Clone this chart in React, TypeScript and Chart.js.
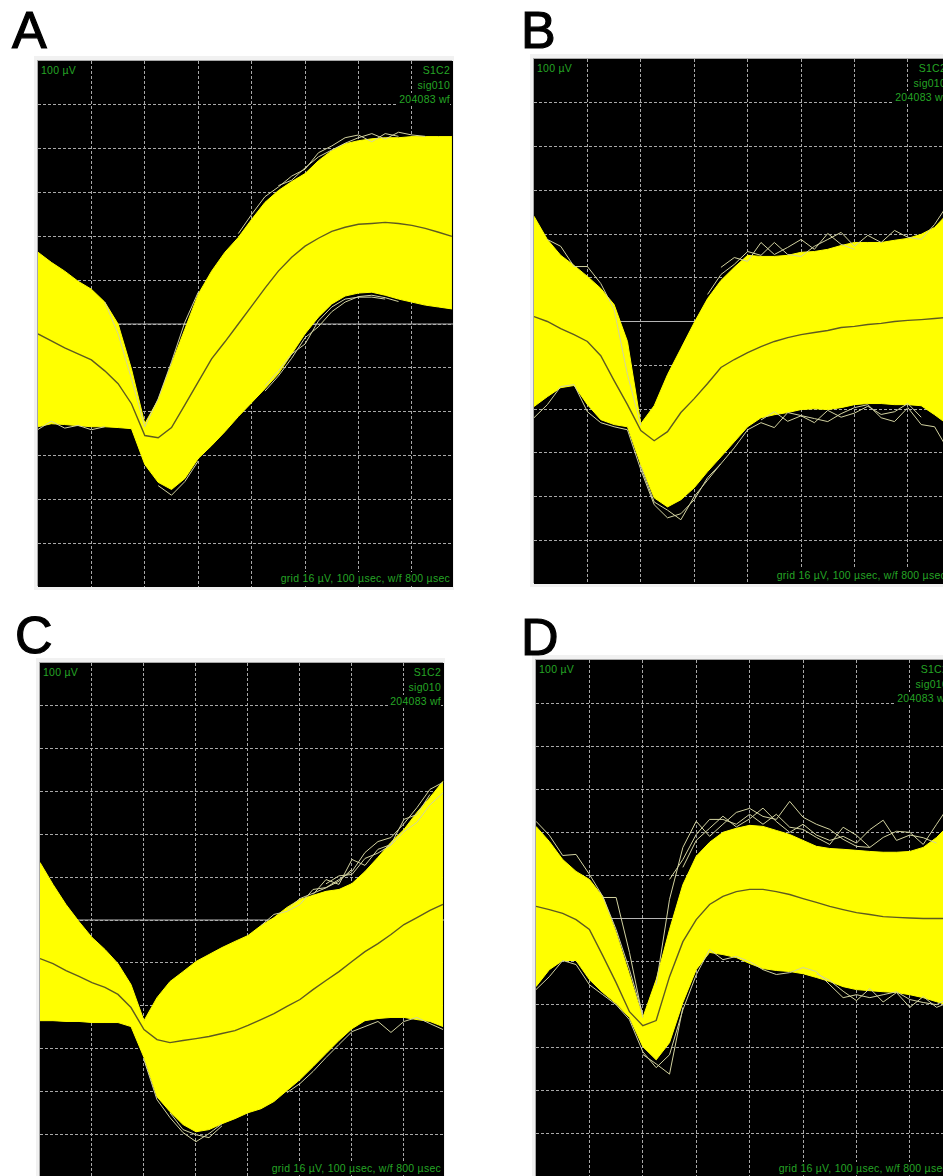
import React, { useEffect, useRef } from "react";
import { Chart, registerables } from "chart.js";

Chart.register(...registerables);

// Sample times: 32 samples, 25 µs apart (µs)
const sampleTimes = [0,25,50,75,100,125,150,175,200,225,250,275,300,325,350,375,400,425,450,475,500,525,550,575,600,625,650,675,700,725,750,775];
const sweepEnd = 777;
const gridUv = 16;
const rangeUv = 96;

// Panel A (µV)
const aUpper = [26.2,22.5,19.3,15.6,12.7,8,0,-16.4,-36.4,-27.6,-14.5,-1.8,10.9,19.3,26.2,31.6,38.2,44.4,48.7,52,54.9,59.6,63.3,65.8,66.9,67.6,68,68,68.4,68.4,68.4,68.4];
const aLower = [-37.5,-36.4,-36.7,-37.1,-37.5,-37.5,-37.8,-38.2,-51.3,-57.8,-60.4,-56.4,-49.1,-44.4,-39.3,-33.8,-28.7,-23.6,-18.2,-10.9,-3.6,2.5,7.3,10.2,11.3,11.6,10.5,9.1,8,6.9,6.2,5.5];
const aMean = [-3.6,-6.2,-8.7,-10.9,-13.1,-17.1,-21.8,-29.1,-40.7,-41.5,-37.8,-29.5,-21.1,-12.7,-6.5,0,6.5,13.1,19.3,24.4,28.4,31.3,33.8,35.3,36.4,36.7,37.1,36.7,36,34.9,33.5,32];
const aTraces: [number, number[]][] = [
  [15,[33,40,46.5,50,54,56.5,62.5,65,68,69,66.5,69.5,68.5]],
  [18,[50.5,52.5,57,61,63.5,66,68,69.5,67.5,70,69,68.5]],
  [0,[-38.5,-35.5,-38,-37,-38.6,-37.5]],
  [9,[-59,-62.5,-57.5,-50]],
  [17,[-22.5,-17.1,-10.9,-7.3,1.1,6.2,9.1,9.8,9.8,9.1]],
  [17,[-24.5,-19,-12.5,-5,-1,4.5,8,10,10.5,9.6,8.2]],
  [5,[8,-3.6,-20,-37.5,-27.3,-13.8,0.7,11.6]],
];

// Panel B (µV)
const bUpper = [38.5,30,24.2,20.5,16.5,12.1,6.2,-7.3,-37.4,-30.8,-19.4,-9.9,-0.4,8.4,15,19.8,24.2,23.8,23.8,24.2,25.3,25.6,26.4,27.8,28.9,28.9,28.9,29.7,30.4,31.9,34.4,39.6];
const bLower = [-31.1,-27.5,-24.2,-23.4,-30.4,-35.9,-37.7,-38.5,-52.4,-64.5,-67.8,-65.2,-60.8,-54.9,-49.5,-44,-38.5,-35.2,-34.1,-33.3,-32.2,-31.9,-32.2,-31.5,-30.4,-30,-30,-30.4,-30.4,-30.8,-34.1,-37.7];
const bMean = [1.8,0,-2.6,-4.8,-7.3,-12.5,-21.6,-30.4,-39.9,-43.6,-40.3,-33.3,-28.2,-22.7,-16.8,-13.9,-11.4,-9.2,-7.3,-5.9,-4.8,-4,-3.3,-2.2,-1.8,-1.1,-0.7,0,0.4,0.7,1.1,1.5];
const bTraces: [number, number[]][] = [
  [1,[30,27.5,20.1,20.1,13.9,4.4,-19.4,-38]],
  [13,[9.9,17.2,20.9,25.6,24.2,28.9,24.5,23.8,27.5,30,32.6,27.5,31.5,28.9,33.3,30.8,30,35.5,42.9]],
  [14,[19.8,23.4,22,28.9,24.5,27.1,30,26.4,32.2,28.2,26.4]],
  [0,[-35.2,-30.4,-23.8,-23.1,-33,-37,-38.5,-39.6,-54.2,-67,-71.8,-70.3,-65.2,-57.1,-52,-46.2,-39.6,-37,-38.8,-33.3,-34.4,-35.5,-36.6,-33.7,-31.5,-30.4,-35.2,-36.6,-31.5,-37.7,-38.5,-46.9]],
  [8,[-53,-66,-69,-72.5,-64,-58,-52]],
  [17,[-36,-33,-36.5,-34.5,-37,-32.5,-35,-33.5,-31,-34,-33,-30,-35]],
];

// Panel C (µV)
const cUpper = [21.5,13.3,5.8,-0.6,-6.5,-11,-16.3,-24.1,-37.6,-29,-23,-19.3,-15.5,-12.9,-10.3,-8,-5.8,-2.1,0.9,4.7,7.7,9.2,10.7,11.4,13.6,18.1,23.4,29,33.8,40.2,45.8,51.8];
const cLower = [-37.6,-37.6,-37.9,-37.9,-38.3,-38.3,-38.3,-39.8,-51.4,-66,-71.6,-76.4,-79.1,-78.3,-76.1,-74.2,-72,-70.5,-67.8,-63.7,-59.6,-54.8,-49.9,-45,-40.6,-37.6,-36.8,-36.4,-36.4,-37.2,-37.9,-39.8];
const cMean = [-14.4,-16.3,-18.9,-21.1,-23.4,-25.2,-27.8,-32.7,-40.9,-44.7,-45.8,-45,-44.3,-43.5,-42.4,-41.3,-39.4,-37.2,-35,-32.3,-29.7,-26,-22.6,-19.3,-15.5,-11.8,-8.8,-5.4,-1.7,0.9,3.6,5.8];
const cTraces: [number, number[]][] = [
  [17,[-2.1,2.1,3.2,5.8,11.4,12.1,15.1,18.1,25.2,29.3,30.8,36,42,48.8,51.4]],
  [21,[9.5,15.1,13.3,22.6,20.4,26.4,28.2,37.6,39.4,46.9]],
  [22,[13.5,16.5,17,23,25,28,33,36.5,43,47.5]],
  [19,[4,8,10,12,14.5,19]],
  [8,[-52.2,-67.1,-73.8,-79.4,-82.8,-79.8,-76.1]],
  [10,[-72,-78.3,-80.2,-81.3,-76.9]],
  [19,[-64.5,-61.1,-56.6,-51.4,-46.5,-41.7,-39.8,-37.9,-42,-37.9,-36.4,-38.7,-40.9]],
];

// Panel D (µV)
const dUpper = [34.2,28.6,21.9,17.5,14.5,8.2,-5.2,-20.8,-36.8,-22.7,-4.1,12.6,23.1,28.3,32,33.5,34.6,34.2,32.7,31.2,29,26.8,26,25.7,25.3,24.9,24.6,24.6,24.9,26.4,30.1,35];
const dLower = [-25.3,-19,-15.6,-15.6,-22.7,-27.5,-31.6,-36.8,-47.6,-52.5,-46.1,-31.2,-19,-12.6,-13.4,-14.5,-16.7,-18.6,-19.3,-19.7,-20.5,-21.9,-23.4,-25.3,-26.4,-26.8,-27.2,-27.5,-28.3,-29.4,-30.9,-32.4];
const dMean = [4.5,3.3,1.9,-0.4,-4.1,-13.8,-23.8,-34.6,-39.8,-37.9,-21.6,-8.6,-0.4,5.2,8.2,10,10.8,10.8,10,8.9,7.4,6,4.5,3.3,2.2,1.5,0.7,0.4,0.2,0,0,0];
const dTraces: [number, number[]][] = [
  [0,[36.1,30.9,23.4,23.8,16.4,8.2,-4.1,-19,-35.7]],
  [5,[7.8,7.8,-12.6,-36.8]],
  [9,[-24.6,7.1,26.4,36.1,30.5,35,39.4,40.9,37.9,36.8,43.5,37.6,35,33.1,29.4,26.8,26.4,30.1,32.4,32,27.5,35,42.4]],
  [10,[14.5,21.9,31.2,36.8,36.8,35,38.7,35,38.7,33.9,33.1,30.1,27.5,33.9,30.9,26.4]],
  [11,[19,29,33.5,38,34,37,41,36,32,35,31,29,30.5,28,33,36.5,29,31,30,28]],
  [0,[-26.4,-21.6,-15.6,-17.1,-24.6,-28.3,-32,-37.6,-49.5,-55.4,-50.6,-33.9,-20.9,-11.5,-15.3,-14.1,-16,-19,-20.8,-20.1,-18.2,-19.7,-24.6,-29.4,-28.3,-29.4,-28.3,-27.2,-30.1,-31.2,-32,-29.4]],
  [21,[-20.5,-23,-27,-30.5,-26,-31,-27.5,-33,-29,-33,-31]],
  [8,[-50.5,-54,-57.8,-33]],
];

// Overlay texts
const labelScale = "100 µV";
const labelChannel = "S1C2";
const labelSignal = "sig010";
const labelCount = "204083 wf";
const labelGrid = "grid 16 µV, 100 µsec, w/f 800 µsec";

const YELLOW = "#ffff00";
const GRID = "#a8a8a8";
const GREEN = "#25a525";

type Panel = {
  letter: string; lx: number; ly: number;
  left: number; top: number; width: number; height: number;
  upper: number[]; lower: number[]; mean: number[]; traces: [number, number[]][];
};

const panels: Panel[] = [
  { letter: "A", lx: 12, ly: 2, left: 38, top: 61, width: 415, height: 526, upper: aUpper, lower: aLower, mean: aMean, traces: aTraces },
  { letter: "B", lx: 521, ly: 2, left: 534, top: 59, width: 415, height: 525, upper: bUpper, lower: bLower, mean: bMean, traces: bTraces },
  { letter: "C", lx: 15, ly: 607, left: 40, top: 663, width: 404, height: 514, upper: cUpper, lower: cLower, mean: cMean, traces: cTraces },
  { letter: "D", lx: 521, ly: 609, left: 536, top: 660, width: 415, height: 517, upper: dUpper, lower: dLower, mean: dMean, traces: dTraces },
];

const toPoints = (vals: number[], start = 0) => vals.map((y, i) => ({ x: sampleTimes[i + start], y }));

function Scope({ p }: { p: Panel }) {
  const ref = useRef<HTMLCanvasElement>(null);
  useEffect(() => {
    const chart = new Chart(ref.current as HTMLCanvasElement, {
      type: "line",
      data: {
        datasets: [
          { data: [{ x: 0, y: 0 }, { x: sweepEnd, y: 0 }], borderColor: "#b4b4b4", borderWidth: 1, pointRadius: 0, order: 6 },
          { data: toPoints(p.upper), borderColor: YELLOW, borderWidth: 1, pointRadius: 0, tension: 0, fill: "+1", backgroundColor: YELLOW, order: 4 },
          { data: toPoints(p.lower), borderColor: YELLOW, borderWidth: 1, pointRadius: 0, tension: 0, order: 4 },
          ...p.traces.map(([start, vals]) => ({
            data: toPoints(vals, start), borderColor: "#d2d2a0", borderWidth: 1, pointRadius: 0, tension: 0, order: 2,
          })),
          { data: toPoints(p.mean), borderColor: "#5e5a20", borderWidth: 1.4, pointRadius: 0, tension: 0, order: 1 },
        ],
      } as any,
      options: {
        animation: false,
        responsive: false,
        layout: { padding: 0 },
        plugins: { legend: { display: false }, tooltip: { enabled: false } },
        scales: {
          x: {
            type: "linear", min: 0, max: sweepEnd,
            border: { display: false, dash: [3, 2] },
            grid: { color: (c: any) => (c.tick.value === 0 ? "transparent" : GRID), drawTicks: false, lineWidth: 1 },
            ticks: { display: false, stepSize: 100, includeBounds: false },
          },
          y: {
            type: "linear", min: -rangeUv, max: rangeUv,
            border: { display: false, dash: [3, 2] },
            grid: { color: (c: any) => (Math.abs(c.tick.value) === rangeUv ? "transparent" : GRID), drawTicks: false, lineWidth: 1 },
            ticks: { display: false, stepSize: gridUv },
          },
        },
      } as any,
    });
    return () => chart.destroy();
  }, [p]);

  const text: React.CSSProperties = {
    position: "absolute", font: "10.5px/13px 'Liberation Sans', Arial, sans-serif", letterSpacing: 0.25, color: GREEN,
    background: "#000", whiteSpace: "pre", paddingLeft: 1,
  };
  return (
    <>
      <div style={{ position: "absolute", left: p.left - 4, top: p.top - 5, width: p.width + 5, height: p.height + 8, background: "#f1f1f1" }} />
      <div style={{ position: "absolute", left: p.left, top: p.top, width: p.width, height: p.height, background: "#000", boxShadow: "-1px -1px 0 #a8a8a8" }}>
        <canvas ref={ref} width={p.width} height={p.height} style={{ display: "block", width: p.width, height: p.height }} />
        <span style={{ ...text, left: 2, top: 3 }}>{labelScale}</span>
        <span style={{ ...text, right: 3, top: 3 }}>{labelChannel}</span>
        <span style={{ ...text, right: 3, top: 18 }}>{labelSignal}</span>
        <span style={{ ...text, right: 3, top: 32 }}>{labelCount}</span>
        <span style={{ ...text, right: 3, bottom: 2 }}>{labelGrid}</span>
      </div>
      <div style={{ position: "absolute", left: p.lx, top: p.ly, font: "52px/56px 'Liberation Sans', Arial, sans-serif", color: "#000", WebkitTextStroke: "1.2px #000" }}>{p.letter}</div>
    </>
  );
}

export default function App() {
  return (
    <div style={{ position: "absolute", left: 0, top: 0, width: 943, height: 1176, overflow: "hidden", background: "#fff" }}>
      {panels.map((p) => <Scope key={p.letter} p={p} />)}
    </div>
  );
}
